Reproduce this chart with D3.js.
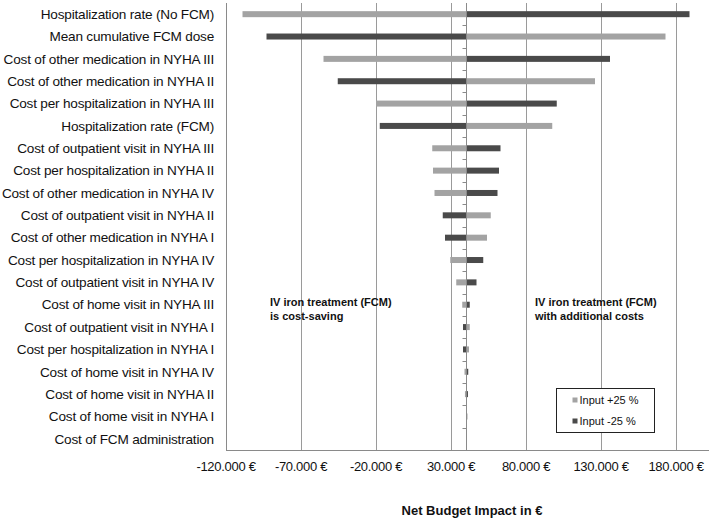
<!DOCTYPE html>
<html>
<head>
<meta charset="utf-8">
<script src="https://cdn.jsdelivr.net/npm/d3@7"></script>
<style>
  body { margin: 0; background: #fff; }
  svg { font-family: "Liberation Sans", Arial, Helvetica, sans-serif; }
</style>
</head>
<body>
<svg id="chart" width="709" height="518"></svg>
<script>
// parameters, top to bottom
const categories = [
  'Hospitalization rate (No FCM)',
  'Mean cumulative FCM dose',
  'Cost of other medication in NYHA III',
  'Cost of other medication in NYHA II',
  'Cost per hospitalization in NYHA III',
  'Hospitalization rate (FCM)',
  'Cost of outpatient visit in NYHA III',
  'Cost per hospitalization in NYHA II',
  'Cost of other medication in NYHA IV',
  'Cost of outpatient visit in NYHA II',
  'Cost of other medication in NYHA I',
  'Cost per hospitalization in NYHA IV',
  'Cost of outpatient visit in NYHA IV',
  'Cost of home visit in NYHA III',
  'Cost of outpatient visit in NYHA I',
  'Cost per hospitalization in NYHA I',
  'Cost of home visit in NYHA IV',
  'Cost of home visit in NYHA II',
  'Cost of home visit in NYHA I',
  'Cost of FCM administration',
]

// net budget impact (€) with each input +25 % / -25 %
const plus25 = [-109000, 173000, -55000, 126000, -20000, 97500, 17500, 18000, 19000, 56500,
  54000, 29500, 33500, 37500, 42500, 42000, 39000, 39300, 41000, 40000]
const minus25 = [189000, -93000, 136000, -45500, 100500, -17500, 63000, 62000, 61000, 24500,
  26000, 51500, 47000, 42500, 38000, 38000, 41500, 41300, 40000, 40000]

const baseCase = 40000
const tickValues = [-120000, -70000, -20000, 30000, 80000, 130000, 180000]

const series = [
  { name: 'Input +25 %', values: plus25, color: '#a3a3a3' },
  { name: 'Input -25 %', values: minus25, color: '#4a4a4a' },
]

const svg = d3.select('#chart')
const margin = { top: 3, right: 3, bottom: 68, left: 226 }
const width = 709
const height = 518

const x = d3.scaleLinear().domain([-120000, 200000]).range([margin.left, width - margin.right])
const y = d3.scaleBand().domain(categories).range([margin.top, height - margin.bottom])

const fmt = (v) => (v < 0 ? '-' : '') + d3.format(',')(Math.abs(v)).replace(/,/g, '.') + ' €'

// gridlines
svg.append('g')
  .selectAll('line')
  .data(tickValues.slice(1))
  .join('line')
  .attr('x1', (d) => x(d) + 0.5)
  .attr('x2', (d) => x(d) + 0.5)
  .attr('y1', margin.top)
  .attr('y2', height - margin.bottom)
  .attr('stroke', '#9a9a9a')
  .attr('stroke-width', 1)

// bars
const bh = 6
series.forEach((s) => {
  svg.append('g')
    .selectAll('rect')
    .data(s.values.map((v, i) => ({ v, c: categories[i] })))
    .join('rect')
    .attr('x', (d) => x(Math.min(d.v, baseCase)))
    .attr('width', (d) => Math.abs(x(d.v) - x(baseCase)))
    .attr('y', (d) => y(d.c) + y.bandwidth() / 2 - bh / 2)
    .attr('height', bh)
    .attr('fill', s.color)
})

// category axis at the base case
const cx = Math.round(x(baseCase)) + 0.5
svg.append('line')
  .attr('x1', cx).attr('x2', cx)
  .attr('y1', margin.top).attr('y2', height - margin.bottom)
  .attr('stroke', '#8a8a8a')
svg.append('g')
  .selectAll('line')
  .data(categories.slice(1))
  .join('line')
  .attr('x1', cx - 4).attr('x2', cx)
  .attr('y1', (d) => Math.round(y(d)) + 0.5)
  .attr('y2', (d) => Math.round(y(d)) + 0.5)
  .attr('stroke', '#8a8a8a')

// frame: left and bottom axis lines
const by = height - margin.bottom + 0.5
svg.append('line')
  .attr('x1', margin.left + 0.5).attr('x2', margin.left + 0.5)
  .attr('y1', margin.top).attr('y2', by)
  .attr('stroke', '#8a8a8a')
svg.append('line')
  .attr('x1', margin.left).attr('x2', width)
  .attr('y1', by).attr('y2', by)
  .attr('stroke', '#8a8a8a')

// category labels
svg.append('g')
  .selectAll('text')
  .data(categories)
  .join('text')
  .attr('x', 214)
  .attr('y', (d) => y(d) + y.bandwidth() / 2)
  .attr('dy', '0.35em')
  .attr('text-anchor', 'end')
  .attr('font-size', 13.6)
  .attr('letter-spacing', -0.2)
  .attr('fill', '#111')
  .text((d) => d)

// tick labels
svg.append('g')
  .selectAll('text')
  .data(tickValues)
  .join('text')
  .attr('x', (d) => x(d))
  .attr('y', 471)
  .attr('text-anchor', 'middle')
  .attr('font-size', 13)
  .attr('letter-spacing', -0.3)
  .attr('fill', '#111')
  .text(fmt)

// axis title
svg.append('text')
  .attr('x', 472)
  .attr('y', 515)
  .attr('text-anchor', 'middle')
  .attr('font-size', 13)
  .attr('font-weight', 'bold')
  .attr('fill', '#111')
  .text('Net Budget Impact in €')

// annotations
const notes = [
  { x: 270, lines: ['IV iron treatment (FCM)', 'is cost-saving'] },
  { x: 535, lines: ['IV iron treatment (FCM)', 'with additional costs'] },
]
notes.forEach((n) => {
  svg.append('text')
    .attr('x', n.x)
    .attr('y', 306)
    .attr('font-size', 11)
    .attr('font-weight', 'bold')
    .attr('fill', '#111')
    .selectAll('tspan')
    .data(n.lines)
    .join('tspan')
    .attr('x', n.x)
    .attr('dy', (d, i) => (i ? 14 : 0))
    .text((d) => d)
})

// legend
const lg = svg.append('g').attr('transform', 'translate(556.5,388.5)')
lg.append('rect')
  .attr('width', 98).attr('height', 44)
  .attr('fill', '#fff').attr('stroke', '#222')
series.forEach((s, i) => {
  lg.append('rect')
    .attr('x', 16).attr('y', 9 + i * 21)
    .attr('width', 5).attr('height', 5)
    .attr('fill', s.color)
  lg.append('text')
    .attr('x', 23).attr('y', 15.5 + i * 21)
    .attr('font-size', 11)
    .attr('fill', '#111')
    .text(s.name)
})
</script>
</body>
</html>
